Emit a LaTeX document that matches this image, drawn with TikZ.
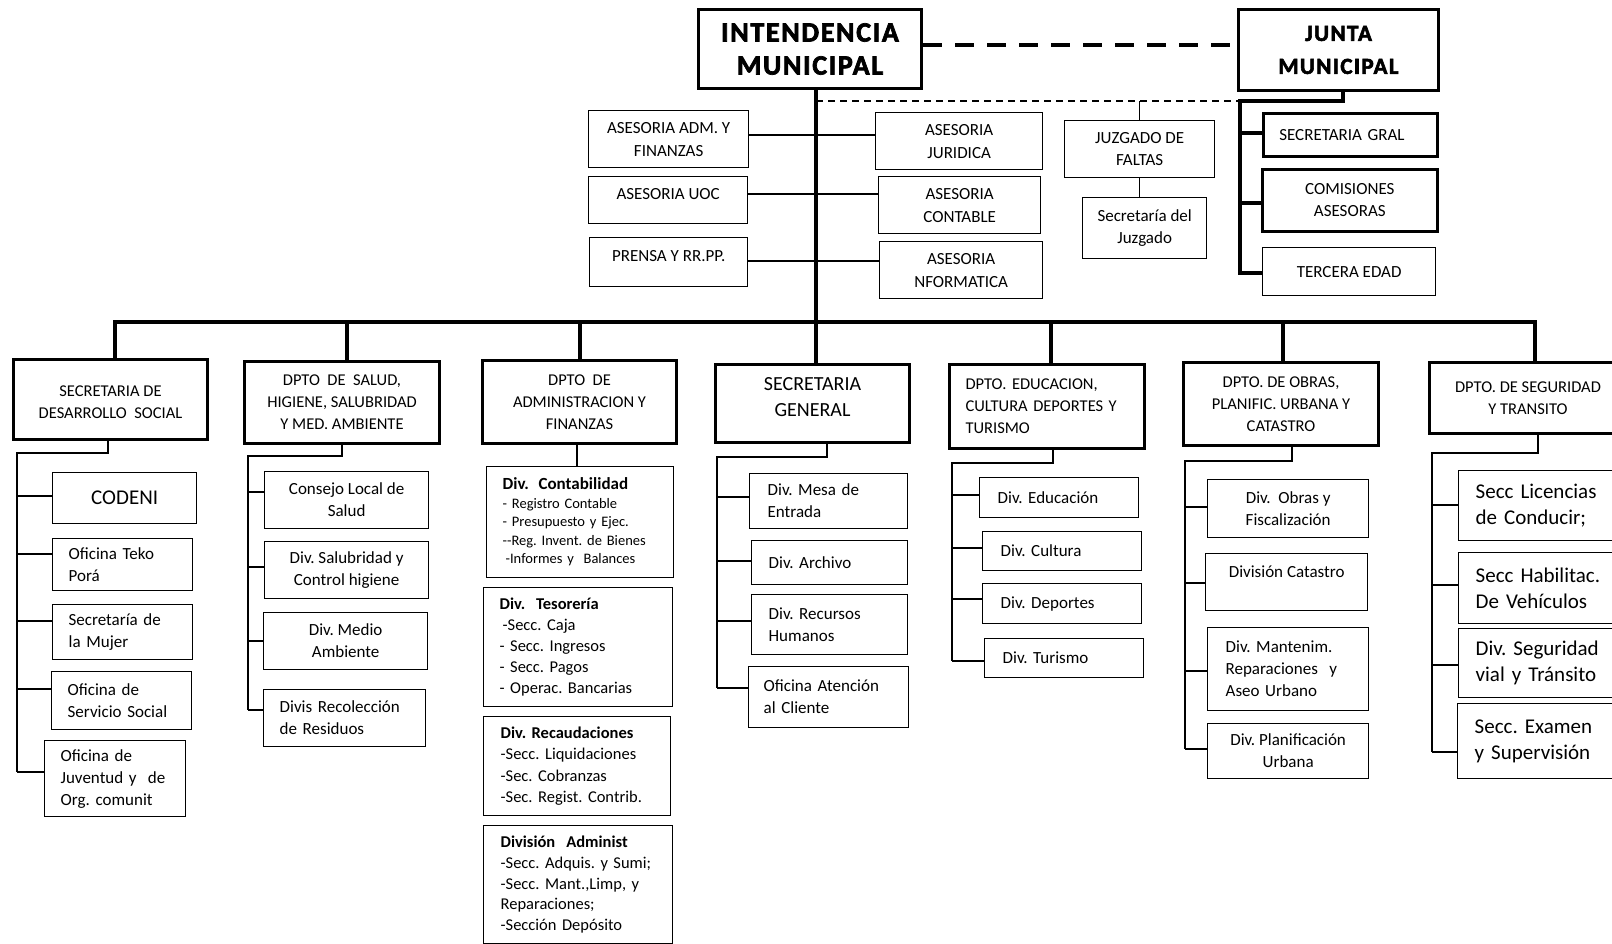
\documentclass[tikz,border=0pt]{standalone}
\usepackage{fontspec}
\setmainfont{Carlito}
\newfontfamily\headfont{Carlito Bold}[FakeBold=2.5,LetterSpace=6]
\frenchspacing
\newcommand{\fsz}[2]{\fontsize{#1}{#2}\selectfont}
\newcommand{\obox}[7][]{\pgfmathsetmacro\obw{#5-#3}\pgfmathsetmacro\obh{#6-#4}%
  \node[box,minimum width=\obw pt,minimum height=\obh pt,anchor=north west,#1] (#2) at (#3,#4) {#7};}
\tikzset{
  box/.style={draw=black, line width=1.3pt, inner sep=4pt, font=\fsz{17}{22}, align=center},
  dept/.style={line width=3pt, font=\fsz{16.5}{22}},
  head/.style={line width=3pt, font=\headfont\fsz{28}{33}},
  lp/.code={\pgfmathsetmacro\obtw{\obw-2*#1}\tikzset{inner xsep=#1pt,align=left,text width=\obtw pt}},
  conn/.style={line width=1.3pt},
  heavy/.style={line width=4pt},
  drop/.style={line width=3.5pt},
  mid/.style={line width=2.4pt},
}
\begin{document}
\begin{tikzpicture}[x=1pt,y=-1pt]
\useasboundingbox (0,0) rectangle (1612,944);
% top level
\obox[head]{intend}{697}{8}{920}{87}{INTENDENCIA\\MUNICIPAL}
\obox[head,font=\headfont\fsz{23}{33}]{junta}{1237}{8}{1437}{89}{JUNTA\\MUNICIPAL}
\draw[line width=4.5pt, dash pattern=on 19pt off 13pt] (intend.east |- 0,45) -- (junta.west |- 0,45);
% assessors
\obox[font=\fsz{17}{23}]{aadm}{588}{110}{748}{167}{ASESORIA ADM. Y\\FINANZAS}
\obox{auoc}{588}{176}{747}{223}{ASESORIA UOC\\[-10pt]\mbox{}}
\obox{aprensa}{589}{237}{747}{286}{PRENSA Y RR.PP.\\[-10pt]\mbox{}}
\obox[font=\fsz{17}{23}]{ajur}{875}{112}{1042}{169}{ASESORIA\\JURIDICA}
\obox[font=\fsz{17}{23}]{acont}{878}{176}{1040}{233}{ASESORIA\\CONTABLE}
\obox[font=\fsz{17}{23}]{ainf}{879}{241}{1042}{298}{ASESORIA\\NFORMATICA}
\obox{juzg}{1064}{120}{1214}{177}{JUZGADO DE\\FALTAS}
\obox{secjuz}{1082}{197}{1206}{258}{Secretaría del\\Juzgado}
\obox[line width=2.6pt,lp=16]{secgral}{1262}{112}{1436}{155}{SECRETARIA GRAL}
\obox[line width=2.6pt]{comis}{1261}{168}{1436}{230}{COMISIONES\\ASESORAS}
\obox{tercera}{1262}{247}{1435}{295}{TERCERA EDAD}
% trunk and links
\coordinate (tk) at (816,322);
\draw[heavy] (tk |- intend.south) -- (tk);
\draw[mid] (aadm.east |- 0,135) -- (ajur.west |- 0,135);
\draw[mid] (auoc.east |- 0,194) -- (acont.west |- 0,194);
\draw[mid] (aprensa.east |- 0,261) -- (ainf.west |- 0,261);
\coordinate (dj) at (1240,101);
\coordinate (jt) at (1343,101);
\coordinate (jbend) at (1240,275);
\draw[line width=1.2pt, dash pattern=on 7pt off 5pt] (tk |- dj) -- (dj);
\draw[heavy, line join=miter] (jt |- junta.south) -- (jt) -- (dj) -- (jbend);
\draw[heavy] (dj |- 0,133) -- (secgral.west |- 0,133);
\draw[heavy] (dj |- 0,203) -- (comis.west |- 0,203);
\draw[heavy] (dj |- 0,273) -- (tercera.west |- 0,273);
\draw[conn] (juzg.north) -- (juzg.north |- dj);
\draw[conn] (juzg.south) -- (juzg.south |- secjuz.north);
% departments
\obox[dept]{sds}{12}{358}{206}{438}{\mbox{}\\[-6pt]SECRETARIA DE\\DESARROLLO~~SOCIAL}
\obox[dept]{salud}{243}{360}{438}{442}{DPTO~~DE~~SALUD,\\HIGIENE, SALUBRIDAD\\Y MED. AMBIENTE}
\obox[dept]{adm}{481}{359}{675}{442}{DPTO~~DE\\ADMINISTRACION Y\\FINANZAS}
\obox[dept,font=\fsz{20}{26}]{sg}{714}{363}{908}{441}{SECRETARIA\\GENERAL\\[-14pt]\mbox{}}
\obox[dept,lp=16]{edu}{948}{363}{1143}{447}{DPTO. EDUCACION,\\\mbox{CULTURA DEPORTES Y}\\TURISMO}
\obox[dept]{obras}{1182}{361}{1377}{444}{DPTO. DE OBRAS,\\PLANIFIC. URBANA Y\\CATASTRO}
\obox[dept]{seg}{1428}{361}{1625}{432}{DPTO. DE SEGURIDAD\\Y TRANSITO}
% bus
\coordinate (d1) at (115,322);
\coordinate (d2) at (347,322);
\coordinate (d3) at (580,322);
\coordinate (d5) at (1051,322);
\coordinate (d6) at (1283,322);
\coordinate (d7) at (1535,322);
\draw[heavy, line cap=rect] (d1) -- (d7);
\foreach \d/\n in {d1/sds,d2/salud,d3/adm,d5/edu,d6/obras,d7/seg}
  \draw[drop] (\d) -- (\d |- \n.north);
\draw[drop] (tk) -- (tk |- sg.north);
% desarrollo social
\obox[font=\fsz{21}{24}]{codeni}{52}{472}{196}{523}{CODENI}
\obox[lp=16]{teko}{52}{538}{192}{590}{Oficina Teko\\Porá}
\obox[lp=16]{mujer}{52}{604}{192}{659}{Secretaría de\\la Mujer}
\obox[lp=16]{servsoc}{51}{671}{191}{729}{Oficina de\\Servicio Social}
\obox[lp=16]{juv}{44}{740}{185}{816}{Oficina de\\\mbox{Juventud y~~de}\\Org. comunit}
\coordinate (a1) at (108,453);
\coordinate (a2) at (17,453);
\draw[conn] (a1 |- sds.south) -- (a1) -- (a2) -- (a2 |- 0,772);
\foreach \y/\n in {496/codeni,554/teko,621/mujer,689/servsoc,772/juv}
  \draw[conn] (a2 |- 0,\y) -- (\n.west |- 0,\y);
% salud
\obox{consejo}{264}{471}{428}{528}{Consejo Local de\\Salud}
\obox{salub}{264}{541}{428}{598}{Div. Salubridad y\\Control higiene}
\obox{medio}{263}{612}{427}{669}{Div. Medio\\Ambiente}
\obox[lp=16]{recol}{263}{689}{425}{746}{\mbox{Divis Recolección}\\de Residuos}
\coordinate (b1) at (342,456);
\coordinate (b2) at (248,456);
\draw[conn] (b1 |- salud.south) -- (b1) -- (b2) -- (b2 |- 0,710);
\foreach \y/\n in {492/consejo,567/salub,641/medio,710/recol}
  \draw[conn] (b2 |- 0,\y) -- (\n.west |- 0,\y);
% administracion
\obox[lp=16,font=\fsz{14.5}{18.5}]{contab}{486}{466}{673}{577}{{\fsz{17}{18.5}\bfseries Div.~~Contabilidad}\\- Registro Contable\\- Presupuesto y Ejec.\\\mbox{-{}-Reg. Invent. de Bienes}\\\hspace*{3pt}-Informes y~~Balances}
\obox[lp=16,font=\fsz{16.5}{21}]{tes}{483}{587}{672}{706}{\textbf{Div.~~Tesorería}\\\hspace*{3pt}-Secc. Caja\\- Secc. Ingresos\\- Secc. Pagos\\- Operac. Bancarias}
\obox[lp=17,font=\fsz{16.5}{21.5}]{rec}{483}{716}{670}{815}{\textbf{Div. Recaudaciones}\\\mbox{-Secc. Liquidaciones}\\-Sec. Cobranzas\\\mbox{-Sec. Regist. Contrib.}}
\obox[lp=17,font=\fsz{16.5}{20.8}]{admi}{483}{825}{672}{943}{\textbf{División~~Administ}\\\mbox{-Secc. Adquis. y Sumi;}\\\mbox{-Secc. Mant.,Limp, y}\\Reparaciones;\\-Sección Depósito}
\draw[conn] (adm.south -| 577,0) -- (contab.north -| 577,0);
% secretaria general
\obox[lp=18]{mesa}{749}{473}{907}{528}{Div. Mesa de\\Entrada}
\obox[lp=17]{arch}{751}{540}{907}{584}{Div. Archivo}
\obox[lp=17]{rrhh}{751}{594}{907}{654}{Div. Recursos\\Humanos}
\obox[lp=15]{aten}{748}{666}{908}{727}{\mbox{Oficina Atención}\\al Cliente}
\coordinate (c1) at (827,457);
\coordinate (c2) at (717,457);
\draw[conn] (c1 |- sg.south) -- (c1) -- (c2) -- (c2 |- 0,688);
\foreach \y/\n in {497/mesa,561/arch,621/rrhh,688/aten}
  \draw[conn] (c2 |- 0,\y) -- (\n.west |- 0,\y);
% educacion
\obox[lp=18]{deduc}{979}{477}{1138}{517}{Div. Educación}
\obox[lp=18]{dcult}{982}{531}{1141}{570}{Div. Cultura}
\obox[lp=18]{ddep}{982}{583}{1141}{623}{Div. Deportes}
\obox[lp=18]{dtur}{984}{638}{1143}{677}{Div. Turismo}
\coordinate (e1) at (1053,463);
\coordinate (e2) at (952,463);
\draw[conn] (e1 |- edu.south) -- (e1) -- (e2) -- (e2 |- 0,661);
\foreach \y/\n in {495/deduc,548/dcult,599/ddep,661/dtur}
  \draw[conn] (e2 |- 0,\y) -- (\n.west |- 0,\y);
% obras
\obox{dobras}{1207}{479}{1368}{537}{Div.~~Obras y\\Fiscalización}
\obox{dcat}{1205}{553}{1367}{610}{División Catastro\\\mbox{}}
\obox[lp=18]{dmant}{1207}{627}{1368}{710}{Div. Mantenim.\\\mbox{Reparaciones~~y}\\Aseo Urbano}
\obox{dplan}{1207}{723}{1368}{778}{Div. Planificación\\Urbana}
\coordinate (f1) at (1292,461);
\coordinate (f2) at (1185,461);
\draw[conn] (f1 |- obras.south) -- (f1) -- (f2) -- (f2 |- 0,749);
\foreach \y/\n in {507/dobras,583/dcat,671/dmant,749/dplan}
  \draw[conn] (f2 |- 0,\y) -- (\n.west |- 0,\y);
% seguridad
\obox[lp=17,font=\fsz{21}{26}]{slic}{1458}{470}{1630}{540}{\mbox{Secc Licencias}\\\mbox{de Conducir;}}
\obox[lp=17,font=\fsz{21}{26}]{shab}{1458}{552}{1630}{623}{\mbox{Secc Habilitac.}\\\mbox{De Vehículos}}
\obox[lp=17,font=\fsz{21}{26}]{sseg}{1458}{628}{1630}{697}{\mbox{Div. Seguridad}\\\mbox{vial y Tránsito}}
\obox[lp=17,font=\fsz{21}{26}]{sexa}{1457}{703}{1630}{778}{\mbox{Secc. Examen}\\\mbox{y Supervisión}}
\coordinate (g1) at (1538,453);
\coordinate (g2) at (1432,453);
\draw[conn] (g1 |- seg.south) -- (g1) -- (g2) -- (g2 |- 0,752);
\foreach \y/\n in {505/slic,585/shab,665/sseg,752/sexa}
  \draw[conn] (g2 |- 0,\y) -- (\n.west |- 0,\y);
\end{tikzpicture}
\end{document}
